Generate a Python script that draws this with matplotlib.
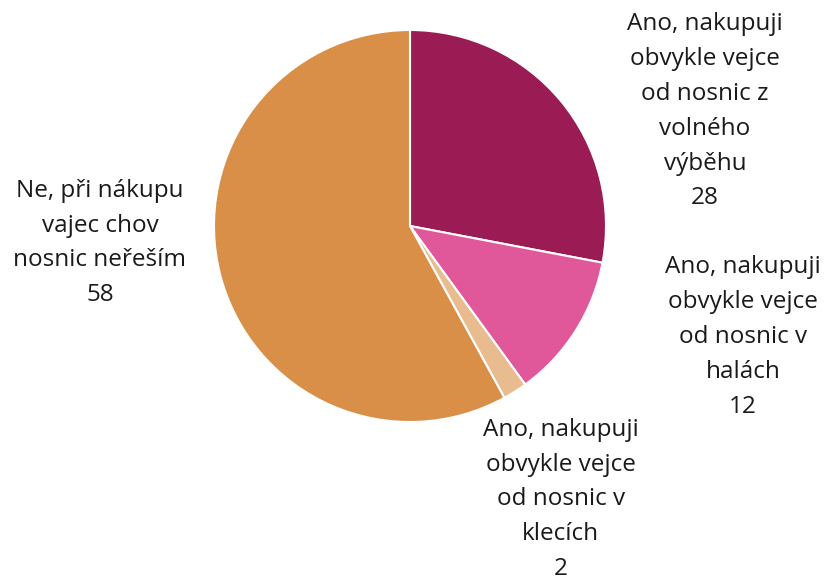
import matplotlib
matplotlib.use("Agg")
import matplotlib.pyplot as plt

# slice data, clockwise from 12 o'clock
labels = [
    "Ano, nakupuji\nobvykle vejce\nod nosnic z\nvolného\nvýběhu",
    "Ano, nakupuji\nobvykle vejce\nod nosnic v\nhalách",
    "Ano, nakupuji\nobvykle vejce\nod nosnic v\nklecích",
    "Ne, při nákupu\nvajec chov\nnosnic neřeším",
]
values = [28, 12, 2, 58]
colors = ["#9B1C55", "#E0589A", "#E8BC8F", "#D98F48"]

# label anchor points (pie radius = 1)
label_pos = [(1.505, 0.585), (1.699, -0.566), (0.770, -1.395), (-1.582, -0.087)]

plt.rcParams["font.family"] = ["Open Sans", "DejaVu Sans"]

fig = plt.figure(figsize=(8.29, 5.81), dpi=100)
ax = fig.add_axes([0, 0, 1, 1])

ax.pie(values, colors=colors, startangle=90, counterclock=False,
       radius=1.0, center=(0, 0),
       wedgeprops=dict(edgecolor="white", linewidth=1.5))

for lab, val, (x, y) in zip(labels, values, label_pos):
    ax.text(x, y, lab + "\n" + str(val), ha="center", va="center",
            fontsize=17.5, color="#1a1a1a", linespacing=1.6)

ax.set_xlim(-410 / 196, (829 - 410) / 196)
ax.set_ylim(-355 / 196, 226 / 196)
ax.set_aspect("auto")
ax.axis("off")

fig.savefig("out.png", dpi=100)
